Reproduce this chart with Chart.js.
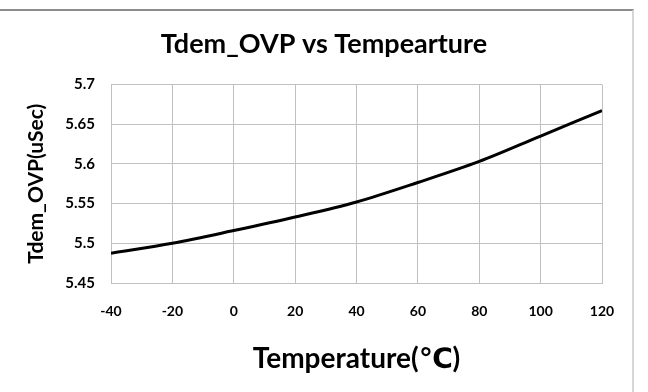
<!DOCTYPE html>
<html>
<head>
<meta charset="utf-8">
<script src="https://cdn.jsdelivr.net/npm/chart.js@4.4.0/dist/chart.umd.min.js"></script>
<style>
  html, body { margin: 0; padding: 0; background: #fff; }
  #wrap { position: relative; width: 648px; height: 392px; overflow: hidden; }
  #frame {
    position: absolute; left: -2px; top: 9px; width: 634px; height: 400px;
    border-top: 2px solid #8c8c8c; border-right: 2px solid #d6d6d6;
  }
  canvas { position: absolute; left: 0; top: 0; }
</style>
</head>
<body>
<div id="wrap">
  <div id="frame"></div>
  <canvas id="chart" width="648" height="392"></canvas>
</div>
<script>
// Tdem_OVP delay vs temperature
const temps = [-40, -20, 0, 20, 40, 60, 80, 100, 120];
const tdemOvp = [5.4875, 5.5, 5.516, 5.533, 5.552, 5.5765, 5.603, 5.635, 5.667];

const xTicks = [-40, -20, 0, 20, 40, 60, 80, 100, 120];
const yTicks = [5.45, 5.5, 5.55, 5.6, 5.65, 5.7];

const FONT = 'Lato, "Open Sans", "DejaVu Sans", sans-serif';
const GRID = '#c0c0c0';

const points = temps.map((t, i) => ({ x: t, y: tdemOvp[i] }));

const ctx = document.getElementById('chart').getContext('2d');
new Chart(ctx, {
    type: 'line',
    data: {
        datasets: [{
            label: 'Tdem_OVP',
            data: points,
            borderColor: '#000000',
            borderWidth: 3,
            pointRadius: 0,
            fill: false,
            tension: 0.4,
            cubicInterpolationMode: 'monotone'
        }]
    },
    options: {
        responsive: false,
        animation: false,
        layout: { padding: { left: 0, right: 0, top: 0, bottom: 0 } },
        plugins: {
            legend: { display: false },
            tooltip: { enabled: false },
            title: {
                display: true,
                text: 'Tdem_OVP vs Tempearture',
                color: '#000',
                font: { family: FONT, size: 27, weight: 'bold' },
                padding: { top: 28, bottom: 24 }
            }
        },
        scales: {
            x: {
                type: 'linear',
                min: xTicks[0],
                max: xTicks[xTicks.length - 1],
                afterBuildTicks: (s) => { s.ticks = xTicks.map(v => ({ value: v })); },
                afterFit: (s) => { s.height = 109; },
                grid: { color: GRID, lineWidth: 1, drawTicks: false },
                border: { color: GRID, width: 1 },
                ticks: {
                    color: '#000',
                    padding: 20,
                    maxRotation: 0,
                    font: { family: FONT, size: 14, weight: 'bold' }
                },
                title: {
                    display: true,
                    text: 'Temperature(℃)',
                    color: '#000',
                    font: { family: FONT, size: 28, weight: 'bold' },
                    padding: { top: 0, bottom: 16 }
                }
            },
            y: {
                min: yTicks[0],
                max: yTicks[yTicks.length - 1],
                afterBuildTicks: (s) => { s.ticks = yTicks.map(v => ({ value: v })); },
                afterFit: (s) => { s.width = 111; },
                grid: { color: GRID, lineWidth: 1, drawTicks: false },
                border: { color: GRID, width: 1 },
                ticks: {
                    color: '#000',
                    padding: 16,
                    font: { family: FONT, size: 15, weight: 'bold' },
                    callback: (v) => String(Number(v.toFixed(2)))
                },
                title: {
                    display: true,
                    text: 'Tdem_OVP(uSec)',
                    color: '#000',
                    font: { family: FONT, size: 21, weight: 'bold' },
                    padding: { top: 24, bottom: 0 }
                }
            },
            // empty spacer on the right so the title stays centred on the canvas
            pad: {
                position: 'right',
                afterFit: (s) => { s.width = 46; },
                ticks: { display: false },
                grid: { display: false },
                border: { display: false }
            }
        }
    }
});
</script>
</body>
</html>
